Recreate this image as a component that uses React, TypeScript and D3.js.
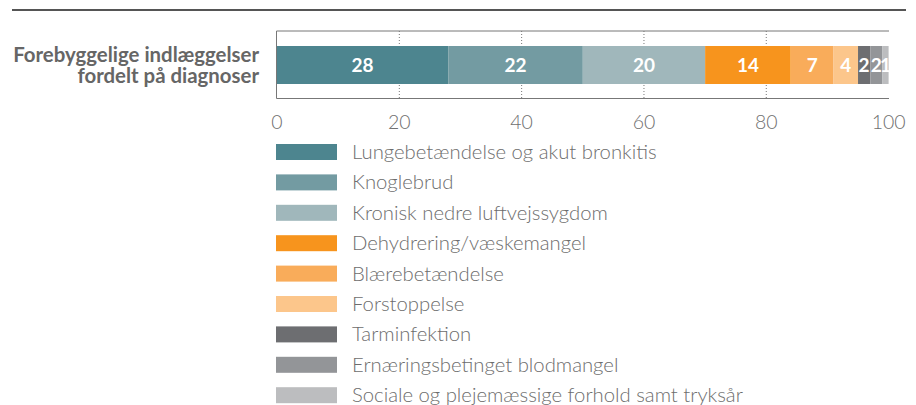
import React, { useEffect, useRef } from 'react';
import * as d3 from 'd3';

const categories = [
  'Lungebetændelse og akut bronkitis',
  'Knoglebrud',
  'Kronisk nedre luftvejssygdom',
  'Dehydrering/væskemangel',
  'Blærebetændelse',
  'Forstoppelse',
  'Tarminfektion',
  'Ernæringsbetinget blodmangel',
  'Sociale og plejemæssige forhold samt tryksår',
];
const values = [28, 22, 20, 14, 7, 4, 2, 2, 1];
const colors = ['#4d858f', '#739ba2', '#a0b7bb', '#f7941d', '#f9ac5a', '#fcc68b', '#6d6e71', '#939598', '#bcbdbf'];
const titleLines = ['Forebyggelige indlæggelser', 'fordelt på diagnoser'];
const ticks = [0, 20, 40, 60, 80, 100];

const W = 916;
const H = 405;

const App = () => {
  const svgRef = useRef<SVGSVGElement>(null);

  useEffect(() => {
    const svg = d3.select(svgRef.current).attr('width', W).attr('height', H);
    svg.selectAll('*').remove();

    const x = d3.scaleLinear().domain([0, 100]).range([277, 888.6]);
    const boxTop = 31, boxBottom = 98.5;
    const barTop = 46, barH = 38;

    // top rule
    svg.append('line')
      .attr('x1', 12).attr('x2', 906).attr('y1', 10).attr('y2', 10)
      .attr('stroke', '#555').attr('stroke-width', 2);

    // title
    svg.append('text')
      .attr('x', 259).attr('y', 62)
      .attr('text-anchor', 'end')
      .attr('font-family', 'Lato, sans-serif')
      .attr('font-weight', 700)
      .attr('font-size', 20.4)
      .attr('fill', '#666')
      .selectAll('tspan')
      .data(titleLines)
      .enter()
      .append('tspan')
      .attr('x', 259)
      .attr('dy', (d, i) => (i === 0 ? 0 : 20.5))
      .text(d => d);

    // dotted gridlines
    svg.selectAll('.grid')
      .data(ticks.filter(t => t > 0 && t < 100))
      .enter()
      .append('line')
      .attr('x1', d => x(d)).attr('x2', d => x(d))
      .attr('y1', boxTop).attr('y2', boxBottom)
      .attr('stroke', '#777').attr('stroke-width', 1)
      .attr('stroke-dasharray', '1,2');

    // box lines
    svg.append('line').attr('x1', 276.5).attr('x2', 889).attr('y1', boxTop).attr('y2', boxTop).attr('stroke', '#777');
    svg.append('line').attr('x1', 276.5).attr('x2', 889).attr('y1', boxBottom).attr('y2', boxBottom).attr('stroke', '#777');
    svg.append('line').attr('x1', 276.5).attr('x2', 276.5).attr('y1', boxTop).attr('y2', boxBottom).attr('stroke', '#777');

    // stacked segments
    const starts = d3.cumsum([0, ...values]);
    const segs = values.map((v, i) => ({ v, s: starts[i], c: colors[i] }));

    svg.selectAll('.seg')
      .data(segs)
      .enter()
      .append('rect')
      .attr('x', d => x(d.s))
      .attr('y', barTop)
      .attr('width', d => x(d.s + d.v) - x(d.s))
      .attr('height', barH)
      .attr('fill', d => d.c);

    svg.selectAll('.lbl')
      .data(segs)
      .enter()
      .append('text')
      .attr('x', d => (x(d.s) + x(d.s + d.v)) / 2)
      .attr('y', barTop + barH / 2 + 7)
      .attr('text-anchor', 'middle')
      .attr('font-family', 'Lato, sans-serif')
      .attr('font-weight', 700)
      .attr('font-size', 19)
      .attr('fill', '#fff')
      .text(d => d.v);

    // axis tick labels
    svg.selectAll('.tick')
      .data(ticks)
      .enter()
      .append('text')
      .attr('x', d => x(d))
      .attr('y', 129)
      .attr('text-anchor', 'middle')
      .attr('font-family', 'Lato, sans-serif')
      .attr('font-weight', 300)
      .attr('font-size', 19.5)
      .attr('fill', '#707070')
      .text(d => d);

    // legend
    const legend = svg.selectAll('.leg')
      .data(categories)
      .enter()
      .append('g')
      .attr('transform', (d, i) => `translate(276, ${144 + i * 30.4})`);

    legend.append('rect')
      .attr('width', 61).attr('height', 16)
      .attr('fill', (d, i) => colors[i]);

    legend.append('text')
      .attr('x', 76).attr('y', 15)
      .attr('font-family', 'Lato, sans-serif')
      .attr('font-weight', 300)
      .attr('font-size', 20.3)
      .attr('fill', '#6d6d6d')
      .text(d => d);
  }, []);

  return <svg ref={svgRef} style={{ position: 'absolute', left: 0, top: 0 }}></svg>;
};

export default App;
